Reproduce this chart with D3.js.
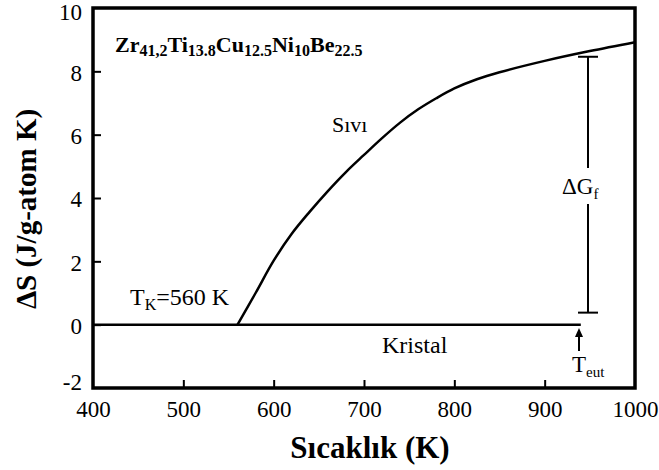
<!DOCTYPE html>
<html>
<head>
<meta charset="utf-8">
<script src="https://cdn.jsdelivr.net/npm/d3@7"></script>
<style>
  body { margin: 0; background: #fff; }
</style>
</head>
<body>
<div id="chart"></div>
<script>
// data
var liquidT = [560, 580, 600, 620, 640, 660, 680, 700, 720, 740, 760, 780, 800, 825, 850, 900, 950, 1000];
var liquidS = [0, 1.0, 2.02, 2.87, 3.57, 4.22, 4.82, 5.36, 5.89, 6.38, 6.8, 7.15, 7.46, 7.75, 7.97, 8.33, 8.64, 8.92];
var crystalT = [400, 940];
var crystalS = [0, 0];
var xTicks = [400, 500, 600, 700, 800, 900, 1000];
var yTicks = [-2, 0, 2, 4, 6, 8, 10];
var dGT = 948, dGTop = 8.46, dGBottom = 0.38;
var tEut = 938;

var serif = "Liberation Serif";

var svgWidth = 659, svgHeight = 470;
var margin = { top: 8, right: 24, bottom: 82, left: 93 };
var width = svgWidth - margin.left - margin.right;
var height = svgHeight - margin.top - margin.bottom;

var svg = d3.select("#chart").append("svg")
  .attr("width", svgWidth)
  .attr("height", svgHeight);

var g = svg.append("g")
  .attr("transform", `translate(${margin.left}, ${margin.top})`);

var x = d3.scaleLinear().domain([400, 1000]).range([0, width]);
var y = d3.scaleLinear().domain([-2, 10]).range([height, 0]);

// inward ticks
var bottomAxis = d3.axisBottom(x).tickValues(xTicks).tickSize(-8).tickPadding(13).tickFormat(d => String(d));
var leftAxis = d3.axisLeft(y).tickValues(yTicks).tickSize(-8).tickPadding(11).tickFormat(d => String(d));

var xAxis = g.append("g")
  .attr("transform", `translate(0, ${height})`)
  .call(bottomAxis);
var yAxis = g.append("g").call(leftAxis);

[xAxis, yAxis].forEach(function(a) {
  a.attr("font-family", serif).attr("font-size", 23);
  a.select(".domain").remove();
  a.selectAll(".tick line").attr("stroke", "#000").attr("stroke-width", 2);
  a.selectAll(".tick text").attr("fill", "#000");
});
yAxis.selectAll(".tick text").attr("dy", "0.38em");
yAxis.selectAll(".tick").filter(d => d === 10).select("text").attr("dy", "0.5em");
yAxis.selectAll(".tick").filter(d => d === -2).select("text").attr("dy", "0.05em");
// hide the ticks that sit on the frame
xAxis.selectAll(".tick").filter(d => d === 400 || d === 1000).select("line").remove();
yAxis.selectAll(".tick").filter(d => d === -2 || d === 10).select("line").remove();

// frame
g.append("rect")
  .attr("x", 0).attr("y", 0)
  .attr("width", width).attr("height", height)
  .attr("fill", "none")
  .attr("stroke", "#000")
  .attr("stroke-width", 3.5);

var line = d3.line().x(d => x(d[0])).y(d => y(d[1]));
var curve = d3.line().x(d => x(d[0])).y(d => y(d[1])).curve(d3.curveCatmullRom);

g.append("path")
  .datum(crystalT.map((t, i) => [t, crystalS[i]]))
  .attr("d", line)
  .attr("fill", "none").attr("stroke", "#000").attr("stroke-width", 2.5);

g.append("path")
  .datum(liquidT.map((t, i) => [t, liquidS[i]]))
  .attr("d", curve)
  .attr("fill", "none").attr("stroke", "#000").attr("stroke-width", 2.5);

// delta G bar
var gx = x(dGT);
var gapTop = 168 - margin.top, gapBottom = 204 - margin.top;
g.append("line").attr("x1", gx).attr("x2", gx).attr("y1", y(dGTop)).attr("y2", gapTop)
  .attr("stroke", "#000").attr("stroke-width", 2);
g.append("line").attr("x1", gx).attr("x2", gx).attr("y1", gapBottom).attr("y2", y(dGBottom))
  .attr("stroke", "#000").attr("stroke-width", 2);
[dGTop, dGBottom].forEach(function(v) {
  g.append("line").attr("x1", gx - 10).attr("x2", gx + 10).attr("y1", y(v)).attr("y2", y(v))
    .attr("stroke", "#000").attr("stroke-width", 2);
});
var dgLabel = g.append("text").attr("x", 562 - margin.left).attr("y", 194 - margin.top)
  .attr("font-size", 23);
dgLabel.append("tspan").text("ΔG");
dgLabel.append("tspan").text("f").attr("baseline-shift", "-5").attr("font-size", 15);

// T_eut arrow
var ax = x(tEut);
g.append("line").attr("x1", ax).attr("x2", ax).attr("y1", 351 - margin.top).attr("y2", 334 - margin.top)
  .attr("stroke", "#000").attr("stroke-width", 2);
g.append("path")
  .attr("d", `M${ax},${328 - margin.top} L${ax - 4},${337 - margin.top} L${ax + 4},${337 - margin.top} Z`)
  .attr("fill", "#000");
var teut = g.append("text").attr("x", 572 - margin.left).attr("y", 372 - margin.top).attr("font-size", 23);
teut.append("tspan").text("T");
teut.append("tspan").text("eut").attr("baseline-shift", "-5").attr("font-size", 15);

// annotations
var title = g.append("text").attr("x", 115 - margin.left).attr("y", 52 - margin.top)
  .attr("font-size", 22).attr("font-weight", "bold");
[["Zr", "41,2"], ["Ti", "13.8"], ["Cu", "12.5"], ["Ni", "10"], ["Be", "22.5"]].forEach(function(p) {
  title.append("tspan").text(p[0]);
  title.append("tspan").text(p[1]).attr("font-size", 16).attr("baseline-shift", "-4");
});

g.append("text").attr("x", 332 - margin.left).attr("y", 132 - margin.top)
  .attr("font-size", 22).text("Sıvı");

var tk = g.append("text").attr("x", 130 - margin.left).attr("y", 305 - margin.top).attr("font-size", 24);
tk.append("tspan").text("T");
tk.append("tspan").text("K").attr("font-size", 16).attr("baseline-shift", "-5");
tk.append("tspan").text("=560 K");

g.append("text").attr("x", 382 - margin.left).attr("y", 353 - margin.top)
  .attr("font-size", 24).text("Kristal");

// axis titles
svg.append("text")
  .attr("x", 370).attr("y", 458)
  .attr("text-anchor", "middle")
  .attr("font-size", 31).attr("font-weight", "bold")
  .text("Sıcaklık (K)");

svg.append("text")
  .attr("transform", `translate(36, 209) rotate(-90)`)
  .attr("text-anchor", "middle")
  .attr("font-size", 29).attr("font-weight", "bold")
  .text("ΔS (J/g-atom K)");

svg.selectAll("text").attr("font-family", serif).attr("fill", "#000");
</script>
</body>
</html>
